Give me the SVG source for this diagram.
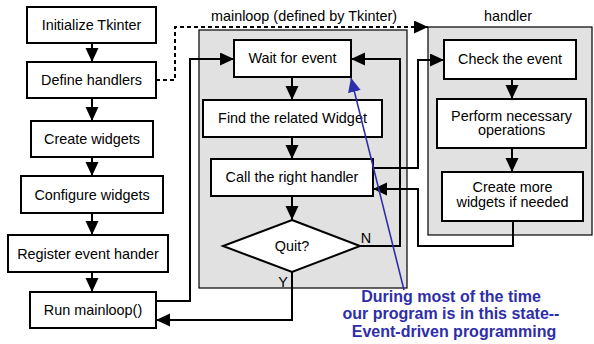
<svg xmlns="http://www.w3.org/2000/svg" width="594" height="344" viewBox="0 0 594 344">
<defs>
<style>
.box{fill:#fff;stroke:#000;stroke-width:2}
.panel{fill:#e1e1e1;stroke:#000;stroke-width:1.2}
.t{font-family:"Liberation Sans",Arial,sans-serif;font-size:14.4px;fill:#000;text-anchor:middle}
.c{fill:none;stroke:#000;stroke-width:2}
.d{fill:none;stroke:#000;stroke-width:2;stroke-dasharray:4 3}
.blue{fill:none;stroke:#2e2eaa;stroke-width:1.6}
.bt{font-family:"Liberation Sans",Arial,sans-serif;font-size:16px;font-weight:bold;fill:#2e2eaa;text-anchor:middle}
</style>
<marker id="ah" markerUnits="userSpaceOnUse" markerWidth="15" markerHeight="14" refX="14" refY="6.5" orient="auto"><path d="M0,0 L14,6.5 L0,13 z" fill="#000"/></marker>
<marker id="bh" markerUnits="userSpaceOnUse" markerWidth="15" markerHeight="14" refX="14" refY="6.5" orient="auto"><path d="M0,0 L14,6.5 L0,13 z" fill="#2e2eaa"/></marker>
</defs>

<g id="mainloop-panel"><rect class="panel" x="199" y="30" width="208" height="258"/><text class="t" x="304" y="21">mainloop (defined by Tkinter)</text></g>
<g id="handler-panel"><rect class="panel" x="428" y="27" width="164" height="208"/><text class="t" x="508" y="21">handler</text></g>

<g id="init"><rect class="box" x="27" y="7" width="129" height="36"/><text class="t" x="91.5" y="30">Initialize Tkinter</text></g>
<g id="define"><rect class="box" x="27" y="62" width="129" height="36"/><text class="t" x="91.5" y="85">Define handlers</text></g>
<g id="create"><rect class="box" x="31" y="121" width="122" height="36"/><text class="t" x="92" y="144">Create widgets</text></g>
<g id="configure"><rect class="box" x="21" y="176" width="142" height="37"/><text class="t" x="92" y="199.5">Configure widgets</text></g>
<g id="register"><rect class="box" x="8" y="235" width="160" height="37"/><text class="t" x="88" y="258.5">Register event hander</text></g>
<g id="run"><rect class="box" x="30" y="292" width="126" height="36"/><text class="t" x="93" y="315">Run mainloop()</text></g>

<g id="wait"><rect class="box" x="234" y="40" width="117" height="37"/><text class="t" x="292.5" y="63">Wait for event</text></g>
<g id="find"><rect class="box" x="203" y="100" width="179" height="37"/><text class="t" x="292.5" y="123">Find the related Widget</text></g>
<g id="call"><rect class="box" x="211" y="159" width="162" height="37"/><text class="t" x="292" y="182">Call the right handler</text></g>
<g id="quit"><polygon class="box" points="292,220 360,246 292,272 223,246"/><text class="t" x="292" y="251">Quit?</text></g>

<g id="check"><rect class="box" x="444" y="40" width="132" height="39"/><text class="t" x="510" y="64">Check the event</text></g>
<g id="perform"><rect class="box" x="437" y="99" width="149" height="49"/><text class="t" x="511.5" y="120.5">Perform necessary</text><text class="t" x="511.5" y="135">operations</text></g>
<g id="more"><rect class="box" x="442" y="172" width="141" height="49"/><text class="t" x="512.5" y="192">Create more</text><text class="t" x="512.5" y="207">widgets if needed</text></g>

<g id="connectors">
<path class="c" d="M92,43 V62" marker-end="url(#ah)"/>
<path class="c" d="M92,98 V121" marker-end="url(#ah)"/>
<path class="c" d="M92,157 V176" marker-end="url(#ah)"/>
<path class="c" d="M92,213 V235" marker-end="url(#ah)"/>
<path class="c" d="M92,272 V292" marker-end="url(#ah)"/>
<path class="d" d="M156,80 H175 V27 H428" marker-end="url(#ah)"/>
<path class="c" d="M156,301 H190 V59 H234" marker-end="url(#ah)"/>
<path class="c" d="M292,77 V100" marker-end="url(#ah)"/>
<path class="c" d="M292,137 V159" marker-end="url(#ah)"/>
<path class="c" d="M292,196 V220" marker-end="url(#ah)"/>
<path class="c" d="M292,272 V320 H156" marker-end="url(#ah)"/>
<path class="c" d="M360,246 H400 V59 H351" marker-end="url(#ah)"/>
<path class="c" d="M373,168 H418 V60 H444" marker-end="url(#ah)"/>
<path class="c" d="M512,79 V99" marker-end="url(#ah)"/>
<path class="c" d="M512,148 V172" marker-end="url(#ah)"/>
<path class="c" d="M513,221 V246 H418 V189 H373" marker-end="url(#ah)"/>
<path class="blue" d="M404,290 L351,78" marker-end="url(#bh)"/>
<text class="t" x="366" y="243">N</text>
<text class="t" x="283" y="287">Y</text>
</g>

<g id="note">
<text class="bt" x="451" y="302">During most of the time</text>
<text class="bt" x="451" y="319">our program is in this state--</text>
<text class="bt" x="454" y="337">Event-driven programming</text>
</g>
</svg>
